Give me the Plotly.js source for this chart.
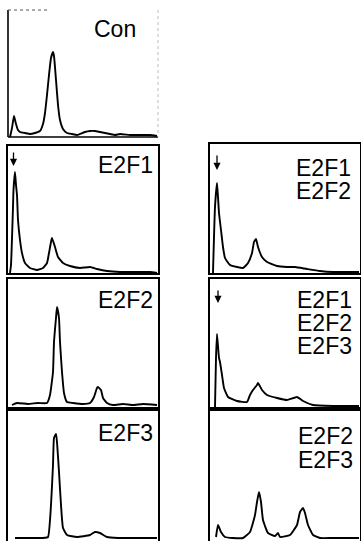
<!DOCTYPE html>
<html>
<head>
<meta charset="utf-8">
<script src="https://cdn.plot.ly/plotly-3.0.1.min.js"></script>
<style>
html,body{margin:0;padding:0;background:#fff;}
#chart{width:361px;height:541px;}
</style>
</head>
<body>
<div id="chart"></div>
<script>
// DNA content histograms: channel (0-150) vs relative cell count
const conX = [2,4,6,8,10,12,17,22,27,32,35,37,39,41,43,45,46,48,50,52,55,59,64,69,77,82,87,92,97,102,107,112,122,132,142,149];
const conY = [0,9,21,13,7,5,4,3,4,6,13,24,42,62,79,85,81,57,32,17,8,4,3,2,5,6,6,5,4,3,2,3,2,2,2,1];

const e2f1X = [2,3,5,5.5,7,8,9,10,12,14,17,22,29,35,39,41,43,44,47,50,55,62,72,82,89,99,112,127,142,149];
const e2f1Y = [0,8,66,83,101,88,78,53,33,20,10,5,3,5,10,20,31,35,26,16,10,7,5,6,4,2,1,1,1,0];

const e2f2X = [4,9,20,30,39,42,45,46,48,49,51,52,54,56,59,65,75,82,86,89,90,93,95,99,105,115,125,135,149];
const e2f2Y = [2,4,3,4,4,12,35,65,89,100,89,65,35,14,5,4,3,4,10,19,20,17,9,4,2,3,2,3,2];

const e2f3X = [7,12,22,35,40,43,45,46,48,49,51,53,55,59,69,82,87,92,99,110,125,140,149];
const e2f3Y = [3,3,3,3,4,36,76,103,107,99,69,36,13,6,4,6,9,8,4,3,3,3,3];

const e2f12X = [3,5,7,8,9,11,13,15,20,27,33,38,42,44,46,48,52,57,67,77,85,97,110,123,143,149];
const e2f12Y = [0,66,90,76,60,43,26,15,8,6,5,10,20,31,34,26,16,11,7,6,6,4,2,1,1,1];

const e2f123X = [5,6,7,9,10,12,14,18,27,37,40,43,47,48,52,57,67,77,87,93,103,123,143,149];
const e2f123Y = [0,49,73,49,45,32,19,10,6,5,12,17,22,24,17,12,9,7,10,6,2,1,1,1];

const e2f23X = [6,8,11,15,23,33,40,45,47,49,51,53,58,65,68,70,80,87,90,93,95,98,103,110,123,143,149];
const e2f23Y = [4,16,9,4,3,3,9,26,39,49,39,21,8,5,8,4,6,16,29,33,28,16,6,3,3,3,3];

const panelLabels = [["Con"],["E2F1"],["E2F2"],["E2F3"],["E2F1","E2F2"],["E2F1","E2F2","E2F3"],["E2F2","E2F3"]];
const panelData = [[conX,conY],[e2f1X,e2f1Y],[e2f2X,e2f2Y],[e2f3X,e2f3Y],[e2f12X,e2f12Y],[e2f123X,e2f123Y],[e2f23X,e2f23Y]];

// layout geometry (pixels)
const W = 361, H = 541;
const boxes = [
  {l:8,   r:158, t:10,  b:137},
  {l:8,   r:158, t:146, b:273},
  {l:8,   r:158, t:279, b:407},
  {l:8,   r:158, t:411, b:541},
  {l:210, r:360, t:144, b:273},
  {l:210, r:360, t:279, b:407},
  {l:210, r:360, t:411, b:541}
];
const labelPos = [
  {x:92,  tops:[20]},
  {x:96,  tops:[156]},
  {x:96,  tops:[291]},
  {x:96,  tops:[424]},
  {x:294, tops:[159,182]},
  {x:295, tops:[291,314,337]},
  {x:296, tops:[427,451]}
];
const arrows = [
  {panel:1, x:13.5, tail:151, tip:166},
  {panel:4, x:217,  tail:154, tip:170},
  {panel:5, x:218,  tail:289, tip:303}
];

const traces = [];
const layout = {
  width: W, height: H,
  margin: {l:0, r:0, t:0, b:0},
  paper_bgcolor: '#fff', plot_bgcolor: '#fff',
  showlegend: false,
  annotations: [], shapes: []
};

const FS = 23;
const capOffset = 6;

boxes.forEach((bx, i) => {
  const n = i === 0 ? '' : String(i + 1);
  const xa = 'x' + n, ya = 'y' + n;
  const h = bx.b - bx.t;
  traces.push({
    x: panelData[i][0], y: panelData[i][1],
    xaxis: xa, yaxis: ya,
    type: 'scatter', mode: 'lines',
    line: {color: '#000', width: 1.9, shape: 'spline', smoothing: 0.4},
    hoverinfo: 'skip'
  });
  const axCommon = {showgrid:false, zeroline:false, showticklabels:false, ticks:'', fixedrange:true};
  const solid = i !== 0;
  layout['xaxis' + n] = Object.assign({}, axCommon, {
    domain: [bx.l / W, bx.r / W], range: [0, 150], anchor: ya,
    showline: solid, mirror: solid, linecolor: '#000', linewidth: 1.6
  });
  layout['yaxis' + n] = Object.assign({}, axCommon, {
    domain: [1 - bx.b / H, 1 - bx.t / H], range: [0, h], anchor: xa,
    showline: solid, mirror: solid, linecolor: '#000', linewidth: 1.6
  });
  panelLabels[i].forEach((txt, k) => {
    layout.annotations.push({
      xref:'paper', yref:'paper',
      x: labelPos[i].x / W, y: 1 - (labelPos[i].tops[k] - capOffset) / H,
      xanchor:'left', yanchor:'top', showarrow:false,
      text: txt,
      font: {family:'Liberation Sans, Arial, Helvetica, sans-serif', size: FS, color:'#000'}
    });
  });
});

// Con panel borders (left & bottom solid, top/right faint)
const c = boxes[0];
const px = v => v / W, py = v => 1 - v / H;
layout.shapes.push(
  {type:'line', xref:'paper', yref:'paper', x0:px(c.l), x1:px(c.l), y0:py(c.t), y1:py(c.b), line:{color:'#000', width:1.6}},
  {type:'line', xref:'paper', yref:'paper', x0:px(c.l), x1:px(c.r), y0:py(c.b), y1:py(c.b), line:{color:'#000', width:1.6}},
  {type:'line', xref:'paper', yref:'paper', x0:px(c.l), x1:px(50), y0:py(c.t), y1:py(c.t), line:{color:'#555', width:1, dash:'dot'}},
  {type:'line', xref:'paper', yref:'paper', x0:px(c.r), x1:px(c.r), y0:py(c.t), y1:py(c.b), line:{color:'#bbb', width:1, dash:'dot'}}
);

arrows.forEach(a => {
  layout.annotations.push({
    xref:'paper', yref:'paper',
    x: a.x / W, y: 1 - a.tip / H,
    ax: 0, ay: -(a.tip - a.tail),
    text:'', showarrow:true, arrowhead:2, arrowsize:1.1, arrowwidth:1.3, arrowcolor:'#000'
  });
});

Plotly.newPlot('chart', traces, layout, {staticPlot:true, displayModeBar:false});
</script>
</body>
</html>
